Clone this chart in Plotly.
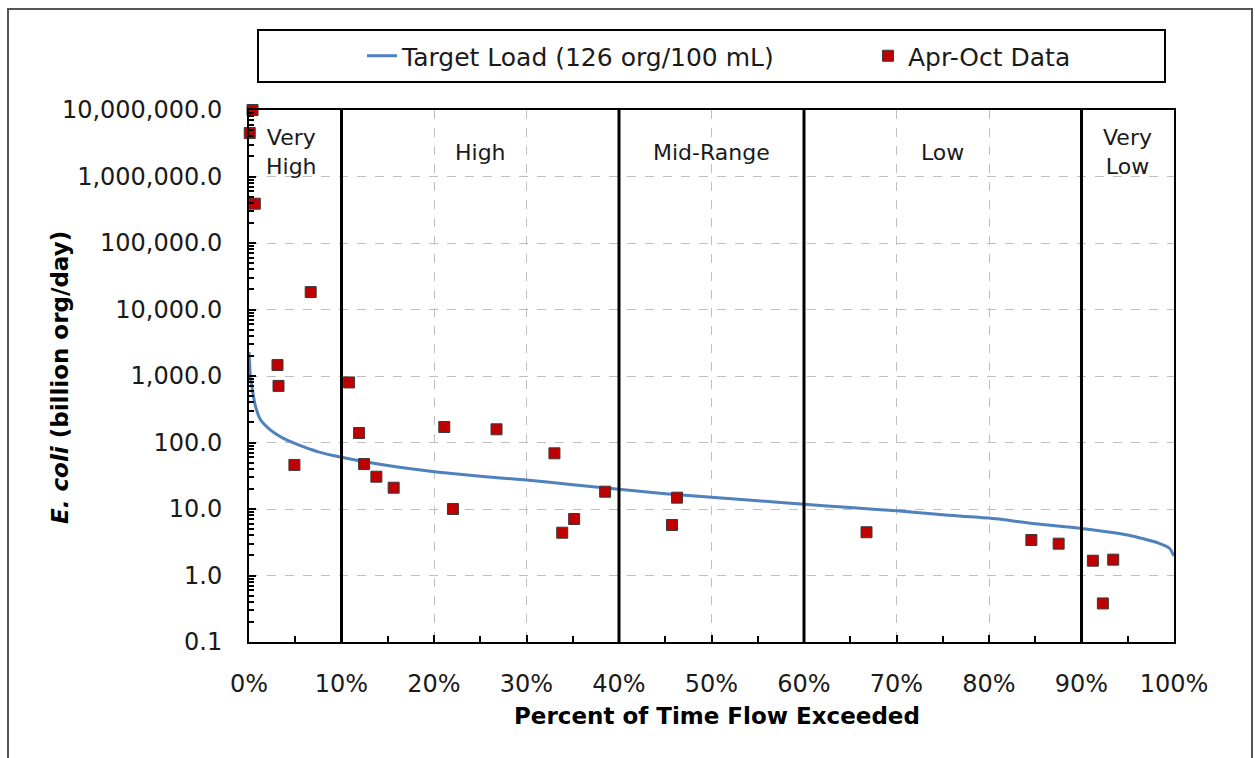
import plotly.graph_objects as go

# ---------------- data ----------------
curve_pct = [0, 0.15, 0.4, 0.7, 1.25, 2.3, 3.5, 4.5, 6, 7.4, 10, 15, 20, 25, 30, 35, 40, 45,
             50, 55, 60, 65, 70, 75, 80, 85, 90, 95, 98.4, 99.5, 100]
curve_load = [2300, 1000, 580, 350, 220, 155, 120, 103, 85, 73, 60, 45, 36.4, 31, 27.3, 23.2,
              19.8, 16.9, 15, 13.3, 11.8, 10.5, 9.4, 8.2, 7.3, 6.0, 5.1, 4.07, 3.05, 2.57, 1.96]

obs_pct = [0.38, 0.08, 0.63, 3.08, 3.19, 4.91, 6.67, 10.82, 11.9, 12.44, 13.77, 15.64, 21.11,
           22.05, 26.76, 33.02, 33.86, 35.15, 38.5, 45.73, 46.27, 66.76, 84.58, 87.53, 91.23,
           92.31, 93.43]
obs_load = [1.0e7, 4.5e6, 3.9e5, 1460, 710, 46, 18300, 800, 139, 47.5, 30.6, 20.9, 171,
            10.0, 158, 68.8, 4.4, 7.07, 18.2, 5.75, 14.8, 4.47, 3.42, 3.01, 1.67, 0.38, 1.73]

regime_bounds = [10, 40, 60, 90]
regime_labels = ["Very<br>High", "High", "Mid-Range", "Low", "Very<br>Low"]
regime_centers = [4.6, 25, 50, 75, 95]

line_name = "Target Load (126 org/100 mL)"
obs_name = "Apr-Oct Data"
x_title = "Percent of Time Flow Exceeded"
y_title = "<b><i>E. coli</i> (billion org/day)</b>"

# ---------------- layout geometry (pixels) ----------------
W, H = 1255, 758
L, R, T, B = 249, 1174, 110, 642
pw, ph = R - L, B - T


def px(p):
    return (p - L) / pw


def py(p):
    return (B - p) / ph


FONT = "DejaVu Sans"
TXT = "#1a1a1a"

fig = go.Figure()
fig.add_trace(go.Scatter(
    x=curve_pct, y=curve_load, mode="lines", name=line_name,
    line=dict(color="#4F81BD", width=3, shape="spline", smoothing=0.6),
    legend="legend",
))
fig.add_trace(go.Scatter(
    x=obs_pct, y=obs_load, mode="markers", name=obs_name,
    marker=dict(symbol="square", size=11, color="#C00000",
                line=dict(color="#3a3a3a", width=1)),
    legend="legend2", cliponaxis=False,
))

shapes = []
for xb in regime_bounds:
    shapes.append(dict(type="line", xref="x", yref="paper", x0=xb, x1=xb, y0=0, y1=1,
                       line=dict(color="black", width=3), layer="above"))
# legend box
shapes.append(dict(type="rect", xref="paper", yref="paper",
                   x0=px(258), x1=px(1165), y0=py(82), y1=py(30),
                   line=dict(color="black", width=2)))
# outer chart frame
shapes.append(dict(type="rect", xref="paper", yref="paper",
                   x0=px(8), x1=px(1252), y0=py(775), y1=py(9),
                   line=dict(color="#555555", width=2)))

annotations = []
for lab, xc in zip(regime_labels, regime_centers):
    annotations.append(dict(x=xc, y=py(152), xref="x", yref="paper", text=lab,
                            showarrow=False, font=dict(family=FONT, size=22, color=TXT),
                            xanchor="center", yanchor="middle"))
annotations.append(dict(x=px(717), y=py(716), xref="paper", yref="paper",
                        text="<b>" + x_title + "</b>", showarrow=False,
                        font=dict(family=FONT, size=23, color="black"),
                        xanchor="center", yanchor="middle"))
annotations.append(dict(x=px(60), y=py(378), xref="paper", yref="paper",
                        text=y_title, textangle=-90, showarrow=False,
                        font=dict(family=FONT, size=23, color="black"),
                        xanchor="center", yanchor="middle"))

fig.update_layout(
    width=W, height=H,
    margin=dict(l=L, r=W - R, t=T, b=H - B, autoexpand=False),
    paper_bgcolor="white", plot_bgcolor="white",
    font=dict(family=FONT, size=24, color=TXT),
    shapes=shapes, annotations=annotations,
    legend=dict(orientation="h", x=px(362), y=py(56), xanchor="left", yanchor="middle",
                bgcolor="rgba(0,0,0,0)", borderwidth=0,
                font=dict(family=FONT, size=25, color=TXT)),
    legend2=dict(orientation="h", x=px(868), y=py(56), xanchor="left", yanchor="middle",
                 bgcolor="rgba(0,0,0,0)", borderwidth=0,
                 font=dict(family=FONT, size=25, color=TXT)),
    xaxis=dict(range=[0, 100], dtick=10, ticksuffix="%", showgrid=True,
               gridcolor="#BFBFBF", griddash="dash", gridwidth=1,
               showline=True, linecolor="black", linewidth=2, mirror=True,
               ticks="inside", ticklen=7, tickwidth=2, tickcolor="black",
               minor=dict(dtick=5, ticks="inside", ticklen=6, tickwidth=2,
                          tickcolor="black", showgrid=False),
               ticklabelstandoff=19, zeroline=False,
               tickfont=dict(family=FONT, size=24, color=TXT)),
    yaxis=dict(type="log", range=[-1, 7], dtick=1, tickformat=",.1f", showgrid=True,
               gridcolor="#BFBFBF", griddash="dash", gridwidth=1,
               showline=True, linecolor="black", linewidth=2, mirror=True,
               ticks="inside", ticklen=7, tickwidth=2, tickcolor="black",
               minor=dict(dtick="D1", ticks="inside", ticklen=5, tickwidth=2,
                          tickcolor="black", showgrid=False),
               ticklabelstandoff=20, zeroline=False,
               tickfont=dict(family=FONT, size=24, color=TXT)),
    showlegend=True,
)

fig.write_html("out.html")
